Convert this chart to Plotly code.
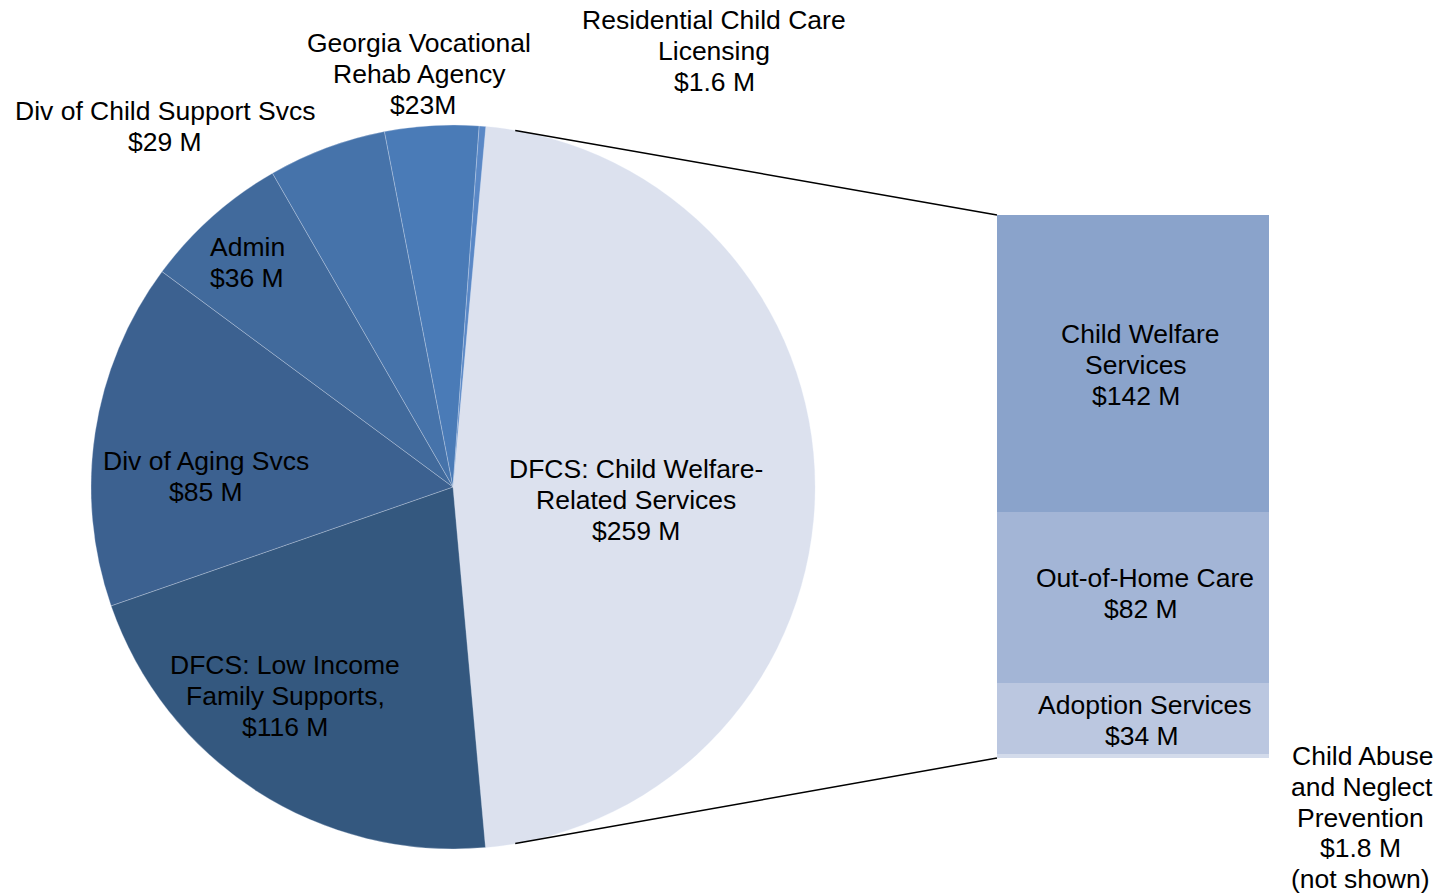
import math
import plotly.graph_objects as go

# ---------------- data ----------------
pie_names = ["DFCS: Child Welfare-Related Services", "DFCS: Low Income Family Supports",
             "Div of Aging Svcs", "Admin", "Div of Child Support Svcs",
             "Georgia Vocational Rehab Agency", "Residential Child Care Licensing"]
pie_values = [259, 116, 85, 36, 29, 23, 1.6]
pie_colors = ["#DCE1EE", "#34587F", "#3C6190", "#416A9C", "#4673AA", "#4A7BB7", "#5A88C6"]
pie_label_lines = [
    ["DFCS: Child Welfare-", "Related Services", "$259 M"],
    ["DFCS: Low Income", "Family Supports,", "$116 M"],
    ["Div of Aging Svcs", "$85 M"],
    ["Admin", "$36 M"],
    ["Div of Child Support Svcs", "$29 M"],
    ["Georgia Vocational", "Rehab Agency", "$23M"],
    ["Residential Child Care", "Licensing", "$1.6 M"],
]

bar_names = ["Child Abuse and Neglect Prevention", "Adoption Services",
             "Out-of-Home Care", "Child Welfare Services"]
bar_values = [1.8, 34, 82, 142]
bar_colors = ["#D3DBEB", "#BBC7E0", "#A3B5D6", "#8AA3CB"]
bar_label_lines = [
    ["Child Abuse", "and Neglect", "Prevention", "$1.8 M", "(not shown)"],
    ["Adoption Services", "$34 M"],
    ["Out-of-Home Care", "$82 M"],
    ["Child Welfare", "Services", "$142 M"],
]

# ---------------- layout geometry (screen pixels) ----------------
W, H = 1439, 893
CX, CY, R = 453, 487, 362
BAR_L, BAR_R, BAR_T, BAR_B = 997, 1269, 215, 758
ROTATION = 5.2
FONT = "Liberation Sans, Arial, sans-serif"
FS = 26.5
LS = 30.8


def px(x):
    return x / W


def py(y):
    return 1 - y / H


fig = go.Figure()

fig.add_trace(go.Pie(
    values=pie_values, labels=pie_names, sort=False, direction="clockwise",
    rotation=ROTATION, textinfo="none", hoverinfo="label+value",
    marker=dict(colors=pie_colors, line=dict(color="rgba(225,232,245,0.6)", width=0.5)),
    domain=dict(x=[px(CX - R), px(CX + R)], y=[py(CY + R), py(CY - R)]),
    showlegend=False,
))

for name, val, col in zip(bar_names, bar_values, bar_colors):
    fig.add_trace(go.Bar(
        x=[0], y=[val], name=name, width=1, marker=dict(color=col, line=dict(width=0)),
        xaxis="x", yaxis="y", showlegend=False, hoverinfo="name+y",
    ))

bar_total = sum(bar_values)

# label placement: per-line center x, and first-line center y (pixels)
pie_label_pos = [([636, 636, 636], 469), ([285, 285, 285], 665), ([206, 206], 461),
                 ([247, 247], 247), ([165, 165], 111), ([419, 419, 423], 43),
                 ([714, 714, 714], 20)]
bar_label_pos = [([1362, 1362, 1360, 1360, 1360], 756), ([1145, 1142], 705),
                 ([1145, 1141], 578), ([1140, 1136, 1136], 334)]

annotations = []


def add_lines(lines, xs, y0):
    for i, (t, cx) in enumerate(zip(lines, xs)):
        annotations.append(dict(
            x=px(cx), y=py(y0 + i * LS), xref="paper", yref="paper",
            text=t, showarrow=False, xanchor="center", yanchor="middle",
            font=dict(family=FONT, size=FS, color="#000000"),
        ))


for lines, (xs, cy) in zip(pie_label_lines, pie_label_pos):
    add_lines(lines, xs, cy)
for lines, (xs, cy) in zip(bar_label_lines, bar_label_pos):
    add_lines(lines, xs, cy)

# connector lines from pie edge to bar corners
a_top = math.radians(9.9)
a_bot = math.radians(170.1)
shapes = []
for a, yb in ((a_top, BAR_T), (a_bot, BAR_B)):
    x0 = CX + R * math.sin(a)
    y0 = CY - R * math.cos(a)
    shapes.append(dict(type="line", xref="paper", yref="paper",
                       x0=px(x0), y0=py(y0), x1=px(BAR_L), y1=py(yb),
                       line=dict(color="#000000", width=1.5)))

fig.update_layout(
    width=W, height=H, margin=dict(l=0, r=0, t=0, b=0),
    paper_bgcolor="white", plot_bgcolor="white",
    barmode="stack", bargap=0,
    xaxis=dict(domain=[px(BAR_L), px(BAR_R)], range=[-0.5, 0.5], visible=False, fixedrange=True),
    yaxis=dict(domain=[py(BAR_B), py(BAR_T)], range=[0, bar_total], visible=False, fixedrange=True),
    annotations=annotations, shapes=shapes,
)

fig.write_html(
    "out.html",
    config={"displayModeBar": False},
    post_script="document.body.style.margin='0';document.body.style.overflow='hidden';",
)
